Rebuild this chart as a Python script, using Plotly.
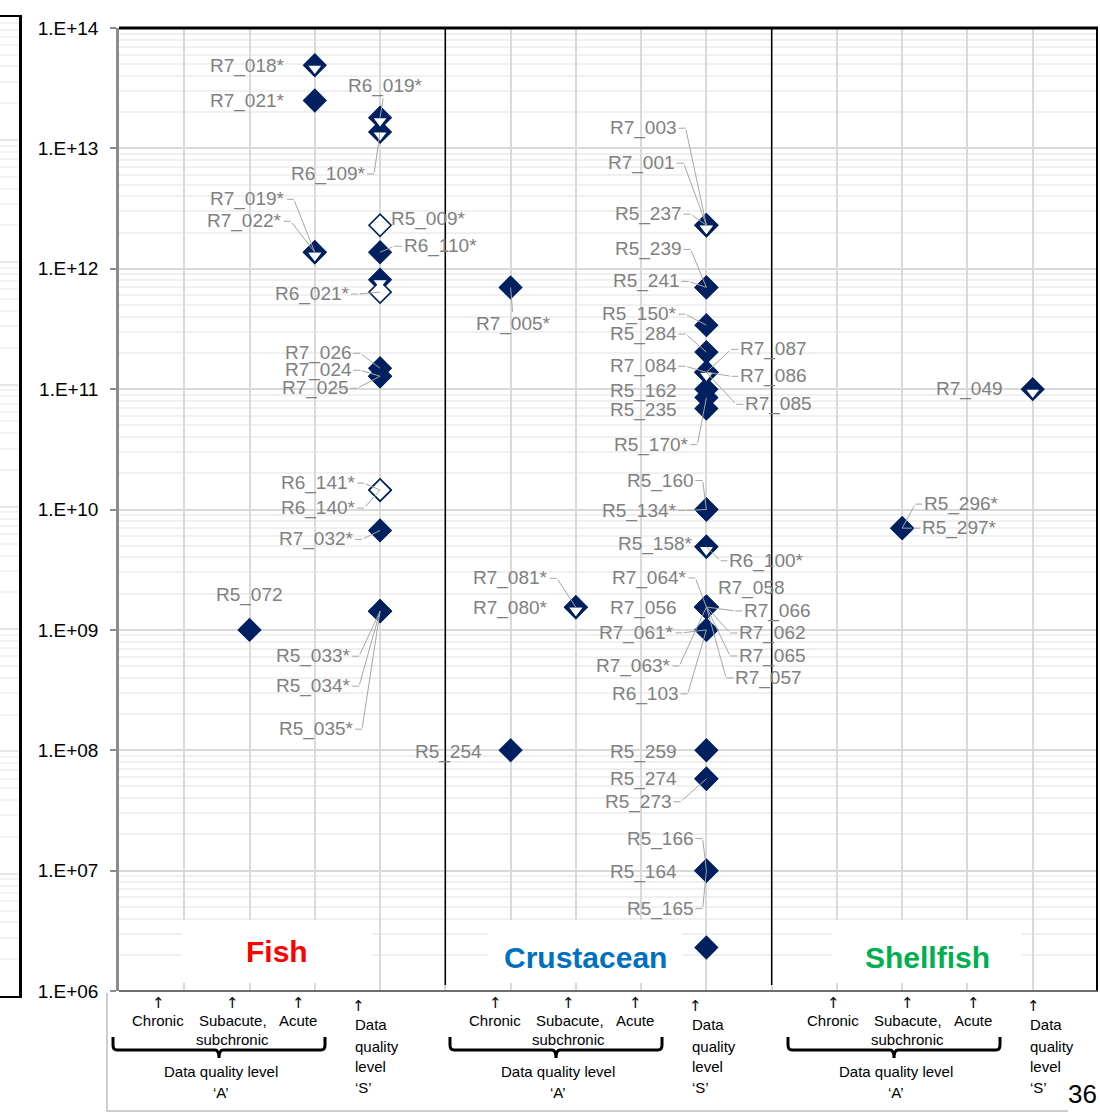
import math
import plotly.graph_objects as go

# ---------------- data ----------------
groups = ["Fish", "Crustacean", "Shellfish"]
group_colors = ["#FF0000", "#0070C0", "#00B050"]
columns = ["Chronic", "Subacute, subchronic", "Acute", "Data quality level 'S'"]
y_tick_vals = [1e6, 1e7, 1e8, 1e9, 1e10, 1e11, 1e12, 1e13, 1e14]
y_tick_text = ["1.E+06", "1.E+07", "1.E+08", "1.E+09", "1.E+10", "1.E+11", "1.E+12", "1.E+13", "1.E+14"]

labels = ["R7_018*", "R7_021*", "R6_019*", "R6_109*", "R7_019*", "R7_022*", "R5_009*", "R6_110*", "",
          "R6_021*", "R7_026", "R7_024", "R7_025", "R6_141*", "R6_140*", "R7_032*", "R5_072",
          "R5_033*", "R5_034*", "R5_035*",
          "R7_005*", "R5_254", "R7_081*", "R7_080*", "R7_003", "R7_001", "R5_237", "R5_239", "R5_241",
          "R5_150*", "R5_284", "R7_084", "R7_087", "R7_086", "R7_085", "R5_162", "R5_170*", "R5_235",
          "R5_160", "R5_134*", "R5_158*", "R6_100*", "R7_064*", "R7_058", "R7_056", "R7_066", "R7_062",
          "R7_065", "R7_057", "R7_061*", "R7_063*", "R6_103", "R5_259", "R5_274", "R5_273", "R5_166",
          "R5_164", "R5_165", "",
          "R5_296*", "R5_297*", "R7_049"]
group_of = [0] * 20 + [1] * 39 + [2] * 3
column_of = [2, 2, 3, 3, 2, 2, 3, 3, 3, 3, 3, 3, 3, 3, 3, 3, 1, 3, 3, 3,
             0, 0, 1, 1, 3, 3, 3, 3, 3, 3, 3, 3, 3, 3, 3, 3, 3, 3, 3, 3, 3, 3, 3, 3, 3, 3, 3,
             3, 3, 3, 3, 3, 3, 3, 3, 3, 3, 3, 3,
             1, 1, 3]
values = [4.9e13, 2.5e13, 1.8e13, 1.37e13, 1.37e12, 1.37e12, 2.3e12, 1.37e12, 8.1e11,
          6.4e11, 1.49e11, 1.28e11, 1.28e11, 1.45e10, 1.45e10, 6.7e9, 1.0e9,
          1.43e9, 1.43e9, 1.43e9,
          7.0e11, 1.0e8, 1.54e9, 1.54e9, 2.3e12, 2.3e12, 2.3e12, 7.0e11, 7.0e11,
          3.4e11, 2.03e11, 1.38e11, 1.38e11, 1.38e11, 1.38e11, 1.0e11, 8.5e10, 6.9e10,
          1.0e10, 1.0e10, 4.9e9, 4.9e9, 1.55e9, 1.55e9, 1.55e9, 1.55e9, 1.55e9,
          1.55e9, 1.55e9, 1.0e9, 1.55e9, 1.0e9, 1.0e8, 5.8e7, 5.8e7, 1.0e7,
          1.0e7, 1.0e7, 2.3e6,
          7.0e9, 7.0e9, 1.0e11]
marker_kind = ["half", "filled", "half", "half", "half", "half", "open", "filled", "half",
               "open", "filled", "filled", "filled", "open", "open", "filled", "filled",
               "filled", "filled", "filled",
               "filled", "filled", "half", "half", "half", "half", "half", "filled", "filled",
               "filled", "filled", "filled", "filled", "half", "filled", "filled", "filled", "filled",
               "filled", "filled", "half", "half", "filled", "filled", "filled", "filled", "filled",
               "filled", "filled", "filled", "filled", "filled", "filled", "filled", "filled", "filled",
               "filled", "filled", "filled",
               "filled", "filled", "half"]

# label placement (pixel offsets of label centre from its point) and leader-line flag
label_dx = [-67, -67, 5, -52, -67, -70, 48, 60, 0,
            -68, -62, -62, -65, -62, -62, -64, 0,
            -67, -67, -64,
            3, -62, -65, -65, -63, -65, -58, -58, -60,
            -67, -63, -63, 67, 67, 72, -63, -55, -63,
            -46, -67, -51, 60, -57, 45, -63, 71, 66,
            66, 62, -70, -73, -61, -63, -63, -68, -46,
            -63, -46, 0,
            59, 57, -63]
label_dy = [1, 1, -32, 42, -53, -31, -6, -6, 0,
            2, -15, -6, 12, -7, 18, 9, -35,
            45, 75, 118,
            37, 2, -29, 1, -97, -62, -11, -38, -6,
            -11, -18, -6, -23, 4, 32, 2, 47, 1,
            -29, 1, -3, 14, -29, -19, 1, 4, 26,
            49, 71, 3, 59, 64, 2, 0, 23, -32,
            1, 38, 0,
            -24, 0, 0]
label_leader = [0, 0, 1, 1, 1, 1, 0, 1, 0,
                1, 1, 1, 1, 1, 1, 1, 0,
                1, 1, 1,
                1, 0, 1, 0, 1, 1, 1, 1, 1,
                1, 1, 1, 1, 1, 1, 0, 1, 0,
                1, 1, 0, 1, 1, 0, 0, 1, 1,
                1, 1, 1, 1, 1, 0, 0, 1, 1,
                0, 1, 0,
                1, 1, 0]

# ---------------- layout geometry ----------------
W, H = 1100, 1114
PL, PR, PT, PB = 119, 1098, 28, 991
NAVY = "#002060"
LABEL_GREY = "#808080"
LEADER_GREY = "#A6A6A6"
FONT = "Liberation Sans, Arial, sans-serif"
LABEL_SIZE = 19
CHAR_W = {"R": 0.722, "_": 0.556, "*": 0.389}


def fx(px):
    return px / W


def fy(py):
    return 1 - py / H


def text_half_width(s):
    return 0.5 * LABEL_SIZE * sum(CHAR_W.get(ch, 0.556) for ch in s)


xpos = [g * 5 + c + 1 for g, c in zip(group_of, column_of)]
px_per_dec = (PB - PT) / 8.0
TRI_SHIFT = 3.3  # px, white lower half of half-filled diamonds

fig = go.Figure()

# diamonds
fig.add_trace(go.Scatter(
    x=xpos, y=values, mode="markers", hoverinfo="text", text=labels,
    marker=dict(symbol="diamond", size=17,
                color=["white" if k == "open" else NAVY for k in marker_kind],
                line=dict(color=NAVY, width=1.6)),
    showlegend=False))

# white lower triangles for half-filled diamonds
hx = [x for x, k in zip(xpos, marker_kind) if k == "half"]
hy = [v * 10 ** (-TRI_SHIFT / px_per_dec) for v, k in zip(values, marker_kind) if k == "half"]
fig.add_trace(go.Scatter(
    x=hx, y=hy, mode="markers", hoverinfo="skip",
    marker=dict(symbol="triangle-down", size=11, color="white", line=dict(width=0)),
    showlegend=False))

# cropped neighbouring panel on the far left
fig.add_trace(go.Scatter(x=[], y=[], xaxis="x2", yaxis="y2", showlegend=False))

annotations = []
label_font = dict(family=FONT, size=LABEL_SIZE, color=LABEL_GREY)
for lab, x, v, dx, dy, ld in zip(labels, xpos, values, label_dx, label_dy, label_leader):
    if not lab:
        continue
    ly = math.log10(v)  # annotation coordinates on a log axis are in log10 units
    if not ld:
        annotations.append(dict(x=x, y=ly, yref="y", xref="x", text=lab, showarrow=False,
                                xshift=dx, yshift=-dy, xanchor="center", yanchor="middle",
                                font=label_font))
        continue
    hw = text_half_width(lab)
    stub = 9
    if abs(dx) - hw - stub > 3:
        # elbow leader: short horizontal stub at the label, then a straight line to the point
        ex = dx - math.copysign(hw + stub, dx)
        ey = dy
        annotations.append(dict(x=x, y=ly, yref="y", xref="x", text=lab, showarrow=True,
                                xshift=ex, yshift=-ey, ax=dx - ex, ay=0,
                                arrowhead=0, arrowwidth=1, arrowcolor=LEADER_GREY,
                                standoff=0, startstandoff=0, font=label_font))
        annotations.append(dict(x=x, y=ly, yref="y", xref="x", text="", showarrow=True,
                                ax=ex, ay=ey, arrowhead=0, arrowwidth=1, arrowcolor=LEADER_GREY,
                                standoff=0, startstandoff=0))
    else:
        annotations.append(dict(x=x, y=ly, yref="y", xref="x", text=lab, showarrow=True,
                                ax=dx, ay=dy, arrowhead=0, arrowwidth=1, arrowcolor=LEADER_GREY,
                                standoff=0, startstandoff=0, font=label_font))

shapes = []
# white boxes behind the group names and the group names
group_box = [(182, 372), (488, 682), (832, 1022)]
group_text_x = [277, 585, 927]
group_text_y = [951, 957, 957]
for (b0, b1), gx, gy, name, col in zip(group_box, group_text_x, group_text_y, groups, group_colors):
    shapes.append(dict(type="rect", xref="paper", yref="paper", x0=fx(b0), x1=fx(b1),
                       y0=fy(983), y1=fy(920), fillcolor="white", line=dict(width=0), layer="above"))
    annotations.append(dict(xref="paper", yref="paper", x=fx(gx), y=fy(gy), text="<b>" + name + "</b>",
                            showarrow=False, xanchor="center", yanchor="middle",
                            font=dict(family=FONT, size=30, color=col)))

# group dividers
for xd in [5, 10]:
    shapes.append(dict(type="line", xref="x", yref="paper", x0=xd, x1=xd,
                       y0=fy(985), y1=fy(PT), line=dict(color="black", width=1.5), layer="above"))
# plot borders
shapes.append(dict(type="line", xref="paper", yref="paper", x0=fx(PL), x1=fx(PR),
                   y0=fy(PT), y1=fy(PT), line=dict(color="black", width=3)))
shapes.append(dict(type="line", xref="paper", yref="paper", x0=fx(PR - 1), x1=fx(PR - 1),
                   y0=fy(PB), y1=fy(PT), line=dict(color="black", width=2)))
shapes.append(dict(type="line", xref="paper", yref="paper", x0=fx(PL), x1=fx(PR),
                   y0=fy(PB), y1=fy(PB), line=dict(color="#404040", width=1.5)))

# bottom explanatory strip
shapes.append(dict(type="path", xref="paper", yref="paper",
                   path="M{},{} L{},{} L{},{}".format(fx(107), fy(993), fx(107), fy(1111), fx(1068), fy(1111)),
                   line=dict(color="#BFBFBF", width=1.5)))

bottom_shift = [0, 337, 675]
arrow_x = [158, 232, 298, 358]
small = dict(family=FONT, size=15, color="black")
for s in bottom_shift:
    for i, ax_ in enumerate(arrow_x):
        annotations.append(dict(xref="paper", yref="paper", x=fx(ax_ + s), y=fy(1003 if i < 3 else 1006),
                                text="↑", showarrow=False, xanchor="center", yanchor="middle",
                                font=dict(family="DejaVu Sans, sans-serif", size=15, color="black")))
    for txt, tx, ty in [("Chronic", 158, 1020), ("Subacute,", 233, 1020), ("Acute", 298, 1020),
                        ("subchronic", 232, 1039), ("Data quality level", 221, 1071), ("‘A’", 221, 1092)]:
        annotations.append(dict(xref="paper", yref="paper", x=fx(tx + s), y=fy(ty), text=txt,
                                showarrow=False, xanchor="center", yanchor="middle", font=small))
    for txt, ty in [("Data", 1024), ("quality", 1046), ("level", 1066), ("‘S’", 1087)]:
        annotations.append(dict(xref="paper", yref="paper", x=fx(353 + s), y=fy(ty), text=txt,
                                showarrow=False, xanchor="left", yanchor="middle", font=small))
    # curly brace
    pts = "M{a},{t} L{a},{m} Q{a},{b} {a2},{b} L{c1},{b} Q{c},{b} {c},{tip} Q{c},{b} {c2},{b} L{e2},{b} Q{e},{b} {e},{m} L{e},{t}"
    path = pts.format(a=fx(113 + s), a2=fx(117 + s), c1=fx(215 + s), c=fx(219 + s), c2=fx(223 + s),
                      e2=fx(321 + s), e=fx(325 + s), t=fy(1037), m=fy(1045), b=fy(1050), tip=fy(1058))
    shapes.append(dict(type="path", xref="paper", yref="paper", path=path,
                       line=dict(color="black", width=3)))

# page number
annotations.append(dict(xref="paper", yref="paper", x=fx(1099), y=fy(1094), text="36", showarrow=False,
                        xanchor="right", yanchor="middle", font=dict(family=FONT, size=26, color="black")))

minor_vals = [m * 10 ** k for k in range(6, 14) for m in range(2, 10)]

fig.update_layout(
    width=W, height=H, autosize=False,
    margin=dict(l=0, r=0, t=0, b=0),
    paper_bgcolor="white", plot_bgcolor="white",
    font=dict(family=FONT, color="black"),
    showlegend=False,
    xaxis=dict(domain=[fx(PL), fx(PR)], range=[0, 15], tickmode="linear", tick0=0, dtick=1,
               showgrid=True, gridcolor="#D9D9D9", gridwidth=1.5, showticklabels=False,
               zeroline=False, showline=False, ticks="", fixedrange=True),
    yaxis=dict(domain=[fy(PB), fy(PT)], type="log", range=[6, 14], tickmode="array",
               tickvals=y_tick_vals, ticktext=y_tick_text,
               tickfont=dict(family=FONT, size=19, color="black"),
               showgrid=True, gridcolor="#D9D9D9", gridwidth=1.5,
               minor=dict(tickmode="array", tickvals=minor_vals, showgrid=True,
                          gridcolor="#F0F0F0", gridwidth=1.5, ticks=""),
               showline=True, linecolor="#8C8C8C", linewidth=2.5,
               ticks="outside", ticklen=6, tickcolor="#8C8C8C", tickwidth=1.5,
               ticklabelstandoff=8, zeroline=False, automargin=False, fixedrange=True),
    xaxis2=dict(domain=[0, fx(19)], range=[0, 1], anchor="y2", showgrid=False, showticklabels=False,
                zeroline=False, showline=True, mirror=True, linecolor="black", linewidth=2, ticks=""),
    yaxis2=dict(domain=[fy(996), fy(17)], type="log", range=[6.0, 14.006], anchor="x2", side="right",
                tickmode="array", tickvals=y_tick_vals, showticklabels=False, ticks="",
                showgrid=True, gridcolor="#E6E6E6", gridwidth=1.5,
                minor=dict(tickmode="array", tickvals=minor_vals, showgrid=True,
                           gridcolor="#F2F2F2", gridwidth=1.5, ticks=""),
                showline=True, linecolor="black", linewidth=2.5, zeroline=False),
    shapes=shapes,
    annotations=annotations,
)

fig.write_html("out.html", config={"displayModeBar": False},
               post_script="document.body.style.margin='0';document.body.style.overflow='hidden';")
